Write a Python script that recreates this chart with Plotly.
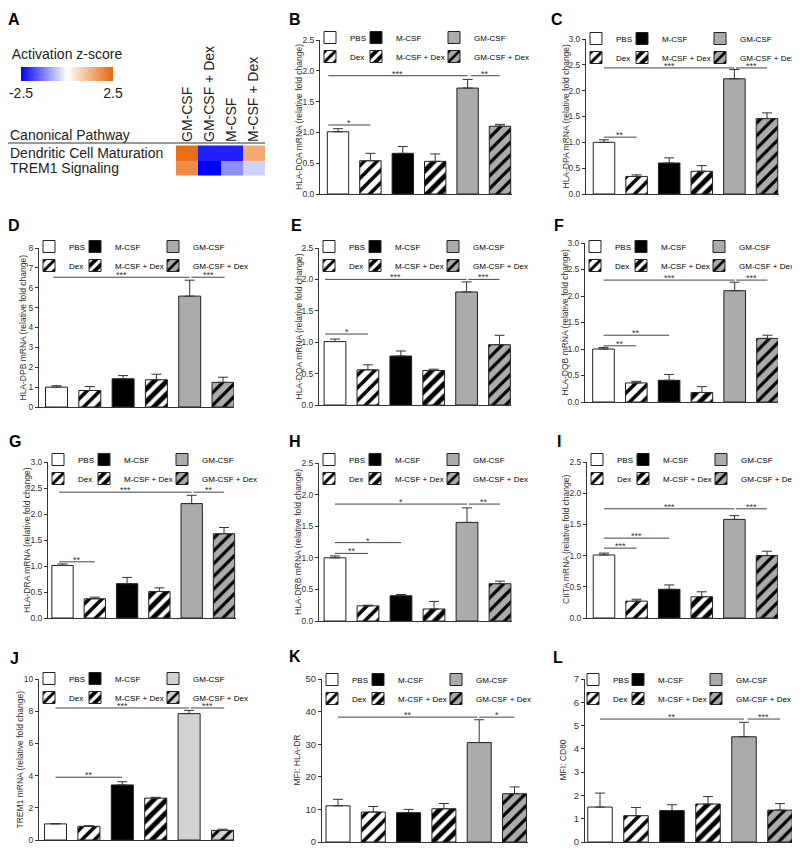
import plotly.graph_objects as go

# The page body adds an 8 px margin, so the figure is drawn 8 px smaller and
# every layout pixel below is given in window coordinates (converted by fx / fy).
OFF = 8
W, H = 800 - OFF, 850 - OFF
FONT = "Liberation Sans, Arial, sans-serif"

# ---------------- data ----------------
groups = ["PBS", "Dex", "M-CSF", "M-CSF + Dex", "GM-CSF", "GM-CSF + Dex"]

# Panel A heatmap (IPA activation z-scores)
pathways = ["Dendritic Cell Maturation", "TREM1 Signaling"]
conditions = ["GM-CSF", "GM-CSF + Dex", "M-CSF", "M-CSF + Dex"]
zscores = [[2.4, -2.2, -2.2, 1.4],
           [1.9, -2.5, -1.1, -0.45]]

hla_doa_mean = [1.01, 0.54, 0.66, 0.53, 1.72, 1.10]
hla_doa_sem = [0.05, 0.12, 0.11, 0.12, 0.14, 0.03]
hla_doa_sig = [(-0.3, 4, 1.92, "***"), (4.1, 5, 1.92, "**"), (-0.3, 1, 1.12, "*")]

hla_dpa_mean = [1.00, 0.34, 0.60, 0.44, 2.23, 1.46]
hla_dpa_sem = [0.05, 0.03, 0.10, 0.11, 0.18, 0.11]
hla_dpa_sig = [(0, 4, 2.44, "***"), (4.05, 5, 2.44, "***"), (0, 1, 1.10, "**")]

hla_dpb_mean = [1.00, 0.83, 1.42, 1.37, 5.58, 1.24]
hla_dpb_sem = [0.07, 0.20, 0.16, 0.28, 0.80, 0.26]
hla_dpb_sig = [(-0.1, 4, 6.53, "***"), (4.05, 5.05, 6.53, "***")]

hla_dqa_mean = [1.01, 0.56, 0.78, 0.55, 1.80, 0.96]
hla_dqa_sem = [0.04, 0.08, 0.08, 0.02, 0.16, 0.15]
hla_dqa_sig = [(-0.3, 4, 2.0, "***"), (4.05, 5, 2.0, "***"), (-0.3, 1, 1.13, "*")]

hla_dqb_mean = [1.00, 0.36, 0.41, 0.18, 2.10, 1.20]
hla_dqb_sem = [0.03, 0.03, 0.11, 0.11, 0.16, 0.06]
hla_dqb_sig = [(0, 4, 2.30, "***"), (4.05, 5, 2.30, "***"), (0, 2, 1.26, "**"), (0, 1, 1.06, "**")]

hla_dra_mean = [1.01, 0.37, 0.66, 0.51, 2.20, 1.62]
hla_dra_sem = [0.03, 0.03, 0.12, 0.07, 0.16, 0.12]
hla_dra_sig = [(-0.1, 4, 2.42, "***"), (4.05, 5, 2.42, "**"), (-0.1, 1, 1.08, "**")]

hla_drb_mean = [1.00, 0.24, 0.40, 0.19, 1.56, 0.59]
hla_drb_sem = [0.03, 0.01, 0.02, 0.12, 0.23, 0.04]
hla_drb_sig = [(0, 4, 1.85, "*"), (4.05, 5, 1.85, "**"), (0, 2, 1.24, "*"), (0, 1, 1.07, "**")]

ciita_mean = [1.01, 0.27, 0.46, 0.34, 1.58, 1.00]
ciita_sem = [0.03, 0.03, 0.07, 0.08, 0.06, 0.07]
ciita_sig = [(0, 4, 1.75, "***"), (4.05, 5, 1.75, "***"), (0, 2, 1.28, "***"), (0, 1, 1.12, "***")]

trem1_mean = [1.00, 0.85, 3.42, 2.60, 7.85, 0.60]
trem1_sem = [0.02, 0.04, 0.20, 0.05, 0.20, 0.07]
trem1_sig = [(0, 4, 8.2, "***"), (4.05, 5.05, 8.2, "***"), (0, 2, 3.9, "**")]

mfi_hladr_mean = [11.1, 9.2, 9.0, 10.2, 30.5, 14.8]
mfi_hladr_sem = [2.0, 1.7, 1.0, 1.6, 7.0, 2.1]
mfi_hladr_sig = [(0, 3.95, 38.3, "**"), (4.0, 5.0, 38.3, "*")]

mfi_cd80_mean = [1.50, 1.13, 1.35, 1.63, 4.52, 1.37]
mfi_cd80_sem = [0.60, 0.35, 0.25, 0.32, 0.62, 0.28]
mfi_cd80_sig = [(0, 4, 5.28, "**"), (4.1, 5.0, 5.28, "***")]

panels = [
    dict(letter="B", title="HLA-DOA mRNA (relative fold change)", mean=hla_doa_mean, sem=hla_doa_sem, sig=hla_doa_sig, ymax=2.5, dtick=0.5),
    dict(letter="C", title="HLA-DPA mRNA (relative fold change)", mean=hla_dpa_mean, sem=hla_dpa_sem, sig=hla_dpa_sig, ymax=3.0, dtick=0.5),
    dict(letter="D", title="HLA-DPB mRNA (relative fold change)", mean=hla_dpb_mean, sem=hla_dpb_sem, sig=hla_dpb_sig, ymax=8, dtick=1),
    dict(letter="E", title="HLA-DQA mRNA (relative fold change)", mean=hla_dqa_mean, sem=hla_dqa_sem, sig=hla_dqa_sig, ymax=2.5, dtick=0.5),
    dict(letter="F", title="HLA-DQB mRNA (relative fold change)", mean=hla_dqb_mean, sem=hla_dqb_sem, sig=hla_dqb_sig, ymax=3.0, dtick=0.5),
    dict(letter="G", title="HLA-DRA mRNA (relative fold change)", mean=hla_dra_mean, sem=hla_dra_sem, sig=hla_dra_sig, ymax=3.0, dtick=0.5),
    dict(letter="H", title="HLA-DRB mRNA (relative fold change)", mean=hla_drb_mean, sem=hla_drb_sem, sig=hla_drb_sig, ymax=2.5, dtick=0.5),
    dict(letter="I", title="CIITA mRNA (relative fold change)", mean=ciita_mean, sem=ciita_sem, sig=ciita_sig, ymax=2.5, dtick=0.5),
    dict(letter="J", title="TREM1 mRNA (relative fold change)", mean=trem1_mean, sem=trem1_sem, sig=trem1_sig, ymax=10, dtick=2),
    dict(letter="K", title="MFI: HLA-DR", mean=mfi_hladr_mean, sem=mfi_hladr_sem, sig=mfi_hladr_sig, ymax=50, dtick=10),
    dict(letter="L", title="MFI: CD80", mean=mfi_cd80_mean, sem=mfi_cd80_sem, sig=mfi_cd80_sig, ymax=7, dtick=1),
]

# ---------------- layout geometry (window pixels) ----------------
# axis_x, first bar centre, last bar centre, right end, y top, y bottom
geom = {
    "B": (320, 338, 500, 512, 40, 194),
    "C": (586, 604, 767, 779, 39, 194),
    "D": (39, 56.5, 223, 234, 248, 407),
    "E": (319, 335, 499.5, 511, 248, 405),
    "F": (585, 603.5, 767.5, 778, 243, 402),
    "G": (48, 62.5, 224, 236, 462, 618),
    "H": (319, 335, 500, 512, 463, 621),
    "I": (587, 604, 767, 778, 462, 618),
    "J": (39, 55.5, 222.5, 234, 679, 840),
    "K": (322, 338, 514.5, 528, 679, 842),
    "L": (585, 600, 780, 793, 679, 842),
}
# reference centre of the first legend row
legend_row1 = {"B": 41, "C": 42, "D": 250, "E": 250, "F": 250,
               "G": 463, "H": 463, "I": 463, "J": 682, "K": 683, "L": 683}
sym_offsets = {"L": [2, 47, 125]}
title_off = {"B": -21, "C": -21, "D": -17, "E": -21, "F": -21, "G": -21,
             "H": -21, "I": -21, "J": -20, "K": -26, "L": -23}
label_pos = {"A": (14, 19), "B": (295, 19), "C": (557, 19), "D": (14, 225),
             "E": (296, 226), "F": (559, 225), "G": (15, 441), "H": (295, 441),
             "I": (559, 441), "J": (14, 658), "K": (295, 656), "L": (558, 657)}


def fx(p):
    return (p - OFF) / W


def fy(p):
    return 1 - (p - OFF) / H


def marker_for(g, gray):
    line = dict(color="#222", width=1)
    if g == "PBS":
        return dict(color="white", line=line)
    if g == "Dex":
        return dict(color="white", line=line,
                    pattern=dict(shape="/", fgcolor="black", bgcolor="white", size=9, solidity=0.4, fillmode="replace"))
    if g == "M-CSF":
        return dict(color="black", line=line)
    if g == "M-CSF + Dex":
        return dict(color="black", line=line,
                    pattern=dict(shape="/", fgcolor="white", bgcolor="black", size=9, solidity=0.45, fillmode="replace"))
    if g == "GM-CSF":
        return dict(color=gray, line=line)
    return dict(color=gray, line=line,
                pattern=dict(shape="/", fgcolor="black", bgcolor=gray, size=9, solidity=0.35, fillmode="replace"))


fig = go.Figure()
lay = {}
shapes = []
annotations = []

for i, p in enumerate(panels, start=1):
    L = p["letter"]
    ax_x, c0, c5, right, ytop, ybot = geom[L]
    pitch = (c5 - c0) / 5
    xr = [(ax_x - c0) / pitch, 5 + (right - c5) / pitch]
    xa = "x" if i == 1 else f"x{i}"
    ya = "y" if i == 1 else f"y{i}"
    xk = "xaxis" if i == 1 else f"xaxis{i}"
    yk = "yaxis" if i == 1 else f"yaxis{i}"
    gray = "#D2D2D2" if L == "J" else "#ABABAB"
    bw = 0.68 if L in ("K", "L") else 0.66

    for k, g in enumerate(groups):
        leg_idx = 3 * (i - 1) + k // 2 + 1
        legname = "legend" if leg_idx == 1 else f"legend{leg_idx}"
        fig.add_trace(go.Bar(
            x=[k], y=[p["mean"][k]], width=[bw], name=g,
            legend=legname, showlegend=True,
            xaxis=xa, yaxis=ya,
            marker=marker_for(g, gray),
            error_y=dict(type="data", array=[p["sem"][k]], arrayminus=[0], symmetric=False,
                         color="#333", thickness=1, width=5),
            hoverinfo="skip",
        ))

    # legends: three columns, two rows each
    sym_off = sym_offsets.get(L, [4, 50, 128])
    for c in range(3):
        leg_idx = 3 * (i - 1) + c + 1
        legname = "legend" if leg_idx == 1 else f"legend{leg_idx}"
        lay[legname] = dict(
            x=fx(ax_x + sym_off[c] - 14), y=fy(legend_row1[L] - 18),
            xanchor="left", yanchor="top", orientation="v",
            bgcolor="rgba(0,0,0,0)", borderwidth=0,
            font=dict(size=8, color="black", family=FONT),
            traceorder="normal", tracegroupgap=0,
        )

    lay[xk] = dict(domain=[fx(ax_x), fx(right)], range=xr, anchor=ya,
                   showline=True, linecolor="#333", linewidth=1, automargin=False,
                   showticklabels=False, ticks="", showgrid=False, zeroline=False,
                   fixedrange=True)
    lay[yk] = dict(domain=[fy(ybot), fy(ytop)], range=[0, p["ymax"]], anchor=xa,
                   showline=True, linecolor="#333", linewidth=1, automargin=False,
                   ticks="outside", ticklen=3, tickwidth=1, tickcolor="#333",
                   tick0=0, dtick=p["dtick"],
                   tickformat=".1f" if p["dtick"] < 1 else "d",
                   tickfont=dict(size=9.5 if L in ("K", "L") else 8.5, color="#333", family=FONT),
                   showgrid=False, zeroline=False, fixedrange=True)

    # significance bars
    for (x0, x1, yv, txt) in p["sig"]:
        shapes.append(dict(type="line", xref=xa, yref=ya, x0=x0, x1=x1, y0=yv, y1=yv,
                           line=dict(color="#444", width=1)))
        annotations.append(dict(xref=xa, yref=ya, x=(x0 + x1) / 2, y=yv, text=txt,
                                showarrow=False, yanchor="bottom", yshift=-5,
                                font=dict(size=9, color="#333", family=FONT)))

    # y-axis title
    annotations.append(dict(xref="paper", yref="paper", x=fx(ax_x + title_off[L]),
                            y=fy((ytop + ybot) / 2), text=p["title"], textangle=-90,
                            showarrow=False, xanchor="center", yanchor="middle",
                            font=dict(size=8.5, color="#333", family=FONT)))

# ---------------- panel A heatmap ----------------
fig.add_trace(go.Heatmap(
    z=zscores, x=conditions, y=pathways, xaxis="x12", yaxis="y12",
    zmin=-2.5, zmax=2.5,
    colorscale=[[0, "rgb(0,0,255)"], [0.5, "rgb(255,255,255)"], [1, "rgb(232,104,12)"]],
    showscale=True, hoverinfo="skip",
    colorbar=dict(orientation="h", x=fx(67), xanchor="center", y=fy(97), yanchor="bottom",
                  len=92, lenmode="pixels", thickness=14, thicknessmode="pixels",
                  xpad=0, ypad=0, outlinewidth=0,
                  title=dict(text="Activation z-score", side="top",
                             font=dict(size=14, color="#222", family=FONT)),
                  tickvals=[-2.5, 2.5], ticktext=["-2.5", "2.5"], ticks="",
                  tickfont=dict(size=14, color="#222", family=FONT)),
))
lay["xaxis12"] = dict(domain=[fx(176), fx(265)], anchor="y12", side="top", tickangle=-90,
                      ticks="", showline=False, showgrid=False, zeroline=False, automargin=False,
                      tickfont=dict(size=14, color="#222", family=FONT), fixedrange=True)
lay["yaxis12"] = dict(domain=[fy(178), fy(143)], anchor="x12", autorange="reversed",
                      showticklabels=False, ticks="", showline=False, showgrid=False,
                      zeroline=False, fixedrange=True, automargin=False)
for pw in pathways:
    annotations.append(dict(xref="paper", yref="y12", x=fx(8), y=pw, text=pw, showarrow=False,
                            xanchor="left", yanchor="middle",
                            font=dict(size=14, color="#222", family=FONT)))
annotations.append(dict(xref="paper", yref="paper", x=fx(8), y=fy(135), text="Canonical Pathway",
                        showarrow=False, xanchor="left", yanchor="middle",
                        font=dict(size=14, color="#222", family=FONT)))
shapes.append(dict(type="line", xref="paper", yref="paper", x0=fx(8), x1=fx(265),
                   y0=fy(143), y1=fy(143), line=dict(color="#333", width=1)))

# panel letters
for letter, (lx, ly) in label_pos.items():
    annotations.append(dict(xref="paper", yref="paper", x=fx(lx), y=fy(ly), text=f"<b>{letter}</b>",
                            showarrow=False, xanchor="center", yanchor="middle",
                            font=dict(size=16, color="black", family=FONT)))

fig.update_layout(
    width=W, height=H, margin=dict(l=0, r=0, t=0, b=0, autoexpand=False),
    paper_bgcolor="white", plot_bgcolor="white",
    barmode="overlay", showlegend=True,
    font=dict(family=FONT, color="#222"),
    shapes=shapes, annotations=annotations,
    **lay,
)

fig.write_html("out.html")
